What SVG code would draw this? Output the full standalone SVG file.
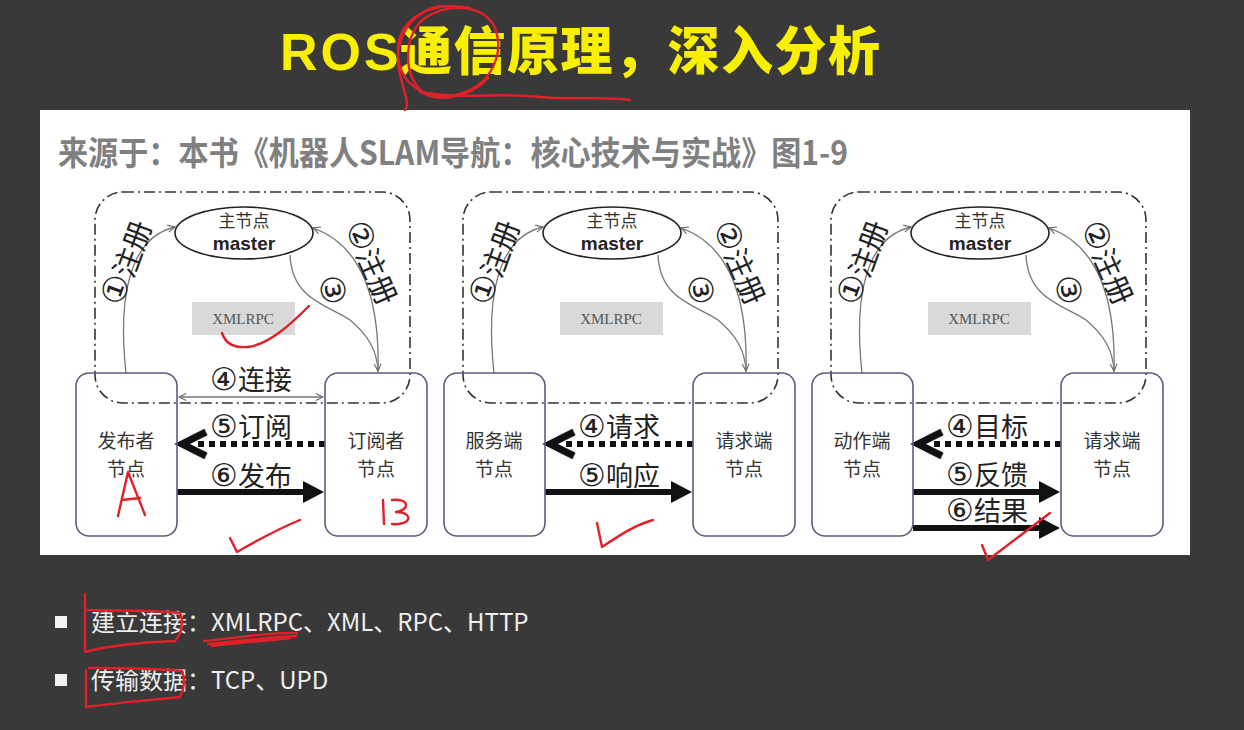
<svg xmlns="http://www.w3.org/2000/svg" width="1244" height="730" viewBox="0 0 1244 730">
<defs>
<marker id="open" viewBox="0 0 10 10" refX="9" refY="5" markerWidth="9" markerHeight="9" markerUnits="userSpaceOnUse" orient="auto-start-reverse">
<path d="M1,1 L9,5 L1,9" fill="none" stroke="#666" stroke-width="1.2"/>
</marker>
<style>
.cjk{font-family:"Noto Sans CJK SC","Liberation Serif",serif;}
.frame{fill:none;stroke:#333;stroke-width:1.6;stroke-dasharray:11,4,2,4;}
.box{fill:none;stroke:#5c5c80;stroke-width:1.6;}
.ell{fill:#fff;stroke:#222;stroke-width:1.6;}
.thin{fill:none;stroke:#777;stroke-width:1.3;}
.dot{stroke:#111;stroke-width:6;stroke-dasharray:6,5;}
.solid{stroke:#111;stroke-width:6;}
.chev{fill:none;stroke:#111;stroke-width:7;stroke-linejoin:miter;}
.head{fill:#111;}
.nlab{font-family:"Noto Sans CJK SC",serif;font-size:19px;fill:#333;text-anchor:middle;}
.mlab{font-family:"Noto Sans CJK SC",serif;font-size:17px;fill:#333;text-anchor:middle;}
.mast{font-family:"Liberation Sans",Arial,sans-serif;font-weight:bold;font-size:19px;fill:#222;text-anchor:middle;}
.big{font-family:"Noto Sans CJK SC",serif;font-size:27px;fill:#222;text-anchor:middle;}
.rot{font-family:"Noto Sans CJK SC",serif;font-size:29px;fill:#222;text-anchor:middle;dominant-baseline:central;}
.cn{font-family:"DejaVu Sans",sans-serif;font-size:1.15em;}
.xml{font-family:"Liberation Serif",serif;font-size:15px;fill:#555;text-anchor:middle;}
.red{fill:none;stroke:#e2202a;stroke-width:2.4;stroke-linecap:round;stroke-linejoin:round;}
.bul{font-family:"Noto Sans CJK SC",sans-serif;font-size:24px;fill:#eeeeee;}
</style>
</defs>
<rect x="0" y="0" width="1244" height="730" fill="#393939"/>
<g id="title">
<text x="280" y="70" font-family="Liberation Sans,Arial,sans-serif" font-weight="bold" font-size="52" letter-spacing="3" fill="#f8f000">ROS</text>
<text x="400" y="70" class="cjk" font-weight="900" font-size="52" letter-spacing="1.5" fill="#f8f000">通信原理，深入分析</text>
</g>
<rect x="40" y="110" width="1150" height="445" fill="#ffffff"/>
<text x="58" y="165" class="cjk" font-weight="bold" font-size="33" fill="#808080" textLength="790" lengthAdjust="spacingAndGlyphs">来源于：本书《机器人SLAM导航：核心技术与实战》图1-9</text>

<!-- Panel 1 -->
<g id="panel1">
<rect class="frame" x="95" y="192" width="315" height="211" rx="28"/>
<g id="xmlrpc1"><rect x="192" y="302" width="103" height="33" fill="#d9d9d9"/><text class="xml" x="243" y="324">XMLRPC</text></g>
<g id="connectors1">
<path class="thin" d="M126,373 C118,300 128,238 175,227" marker-end="url(#open)"/>
<path class="thin" d="M378,372 C380,300 362,245 313,228" marker-end="url(#open)"/>
<path class="thin" d="M290,255 C292,300 328,305 350,320 C368,335 377,350 378,371" marker-end="url(#open)"/>
<line class="thin" x1="179" y1="397" x2="323" y2="397" marker-start="url(#open)" marker-end="url(#open)"/>
<line class="dot" x1="325" y1="444" x2="196" y2="444"/>
<polyline class="chev" points="206,432 182,444 206,456"/>
<line class="solid" x1="177" y1="492" x2="306" y2="492"/>
<polygon class="head" points="303,481 324,492 303,503"/>
<text class="rot" transform="translate(125,262) rotate(-70)"><tspan class="cn">①</tspan>注册</text>
<text class="rot" transform="translate(373,262) rotate(66)"><tspan class="cn">②</tspan>注册</text>
<text class="rot" transform="translate(333,290) rotate(80)"><tspan class="cn">③</tspan></text>
<text class="big" x="251" y="390"><tspan class="cn">④</tspan>连接</text>
<text class="big" x="251" y="437"><tspan class="cn">⑤</tspan>订阅</text>
<text class="big" x="251" y="486"><tspan class="cn">⑥</tspan>发布</text>
</g>
<g id="master1"><ellipse class="ell" cx="244" cy="233" rx="69" ry="26"/><text class="mlab" x="244" y="227">主节点</text><text class="mast" x="244" y="250">master</text></g>
<g id="publisher"><rect class="box" x="76" y="373" width="101" height="163" rx="13"/><text class="nlab" x="126" y="448">发布者</text><text class="nlab" x="126" y="476">节点</text></g>
<g id="subscriber"><rect class="box" x="325" y="373" width="102" height="163" rx="13"/><text class="nlab" x="376" y="448">订阅者</text><text class="nlab" x="376" y="476">节点</text></g>
</g>

<!-- Panel 2 -->
<g id="panel2" transform="translate(368,0)">
<rect class="frame" x="95" y="192" width="315" height="211" rx="28"/>
<g id="xmlrpc2"><rect x="192" y="302" width="103" height="33" fill="#d9d9d9"/><text class="xml" x="243" y="324">XMLRPC</text></g>
<g id="connectors2">
<path class="thin" d="M126,373 C118,300 128,238 175,227" marker-end="url(#open)"/>
<path class="thin" d="M378,372 C380,300 362,245 313,228" marker-end="url(#open)"/>
<path class="thin" d="M290,255 C292,300 328,305 350,320 C368,335 377,350 378,371" marker-end="url(#open)"/>
<line class="dot" x1="325" y1="444" x2="196" y2="444"/>
<polyline class="chev" points="206,432 182,444 206,456"/>
<line class="solid" x1="177" y1="492" x2="306" y2="492"/>
<polygon class="head" points="303,481 324,492 303,503"/>
<text class="rot" transform="translate(125,262) rotate(-70)"><tspan class="cn">①</tspan>注册</text>
<text class="rot" transform="translate(373,262) rotate(66)"><tspan class="cn">②</tspan>注册</text>
<text class="rot" transform="translate(333,290) rotate(80)"><tspan class="cn">③</tspan></text>
<text class="big" x="251" y="437"><tspan class="cn">④</tspan>请求</text>
<text class="big" x="251" y="486"><tspan class="cn">⑤</tspan>响应</text>
</g>
<g id="master2"><ellipse class="ell" cx="244" cy="233" rx="69" ry="26"/><text class="mlab" x="244" y="227">主节点</text><text class="mast" x="244" y="250">master</text></g>
<g id="server"><rect class="box" x="76" y="373" width="101" height="163" rx="13"/><text class="nlab" x="126" y="448">服务端</text><text class="nlab" x="126" y="476">节点</text></g>
<g id="client"><rect class="box" x="325" y="373" width="102" height="163" rx="13"/><text class="nlab" x="376" y="448">请求端</text><text class="nlab" x="376" y="476">节点</text></g>
</g>

<!-- Panel 3 -->
<g id="panel3" transform="translate(736,0)">
<rect class="frame" x="95" y="192" width="315" height="211" rx="28"/>
<g id="xmlrpc3"><rect x="192" y="302" width="103" height="33" fill="#d9d9d9"/><text class="xml" x="243" y="324">XMLRPC</text></g>
<g id="connectors3">
<path class="thin" d="M126,373 C118,300 128,238 175,227" marker-end="url(#open)"/>
<path class="thin" d="M378,372 C380,300 362,245 313,228" marker-end="url(#open)"/>
<path class="thin" d="M290,255 C292,300 328,305 350,320 C368,335 377,350 378,371" marker-end="url(#open)"/>
<line class="dot" x1="325" y1="444" x2="196" y2="444"/>
<polyline class="chev" points="206,432 182,444 206,456"/>
<line class="solid" x1="177" y1="492" x2="306" y2="492"/>
<polygon class="head" points="303,481 324,492 303,503"/>
<line class="solid" x1="177" y1="528" x2="306" y2="528"/>
<polygon class="head" points="303,517 324,528 303,539"/>
<text class="rot" transform="translate(125,262) rotate(-70)"><tspan class="cn">①</tspan>注册</text>
<text class="rot" transform="translate(373,262) rotate(66)"><tspan class="cn">②</tspan>注册</text>
<text class="rot" transform="translate(333,290) rotate(80)"><tspan class="cn">③</tspan></text>
<text class="big" x="251" y="437"><tspan class="cn">④</tspan>目标</text>
<text class="big" x="251" y="485" font-size="25"><tspan class="cn">⑤</tspan>反馈</text>
<text class="big" x="251" y="521" font-size="25"><tspan class="cn">⑥</tspan>结果</text>
</g>
<g id="master3"><ellipse class="ell" cx="244" cy="233" rx="69" ry="26"/><text class="mlab" x="244" y="227">主节点</text><text class="mast" x="244" y="250">master</text></g>
<g id="action"><rect class="box" x="76" y="373" width="101" height="163" rx="13"/><text class="nlab" x="126" y="448">动作端</text><text class="nlab" x="126" y="476">节点</text></g>
<g id="client2"><rect class="box" x="325" y="373" width="102" height="163" rx="13"/><text class="nlab" x="376" y="448">请求端</text><text class="nlab" x="376" y="476">节点</text></g>
</g>

<!-- bullets -->
<g id="bullets">
<rect x="55" y="616" width="12" height="12" fill="#f2f2f2"/>
<rect x="55" y="674" width="12" height="12" fill="#f2f2f2"/>
<text class="bul" x="91" y="631">建立连接：XMLRPC、XML、RPC、HTTP</text>
<text class="bul" x="91" y="689">传输数据：TCP、UPD</text>
</g>

<!-- red annotations -->
<g id="annotations">
<path class="red" d="M470,8 C430,0 395,20 398,55 C400,85 425,100 455,95 C490,88 505,55 495,28 C485,5 450,2 425,18 C405,32 402,70 420,90 C435,104 470,98 488,78"/>
<path class="red" d="M440,6 C410,12 392,40 400,75 C405,95 410,105 405,110"/>
<path class="red" d="M420,92 C460,100 500,92 540,97 C570,100 600,96 630,100"/>
<path class="red" d="M309,306 C295,320 270,345 247,347 C235,348 226,345 222,333"/>
<path class="red" d="M118,516 L128,472 L145,515 M122,500 L140,498" stroke-width="2.2"/>
<path class="red" d="M383,500 L384,524 M392,500 C410,498 410,510 396,512 C414,512 412,526 392,524" stroke-width="2.2"/>
<path class="red" d="M230,538 L237,552 C258,540 280,528 300,520"/>
<path class="red" d="M597,523 L602,547 C620,535 635,525 653,520"/>
<path class="red" d="M982,545 L988,560 C1008,545 1030,528 1050,513"/>
<path class="red" d="M85,594 L85,652 C110,645 150,642 175,641 C183,632 183,620 180,613 C150,610 115,611 88,610"/>
<path class="red" d="M204,641 C235,638 270,632 297,633 M208,644 C240,641 270,637 296,636 M212,646 C245,642 275,640 290,638" stroke-width="3.5"/>
<path class="red" d="M86,670 L86,707 C115,703 150,700 180,697 C185,688 185,678 182,671 C150,668 115,668 89,668"/>
</g>
</svg>
